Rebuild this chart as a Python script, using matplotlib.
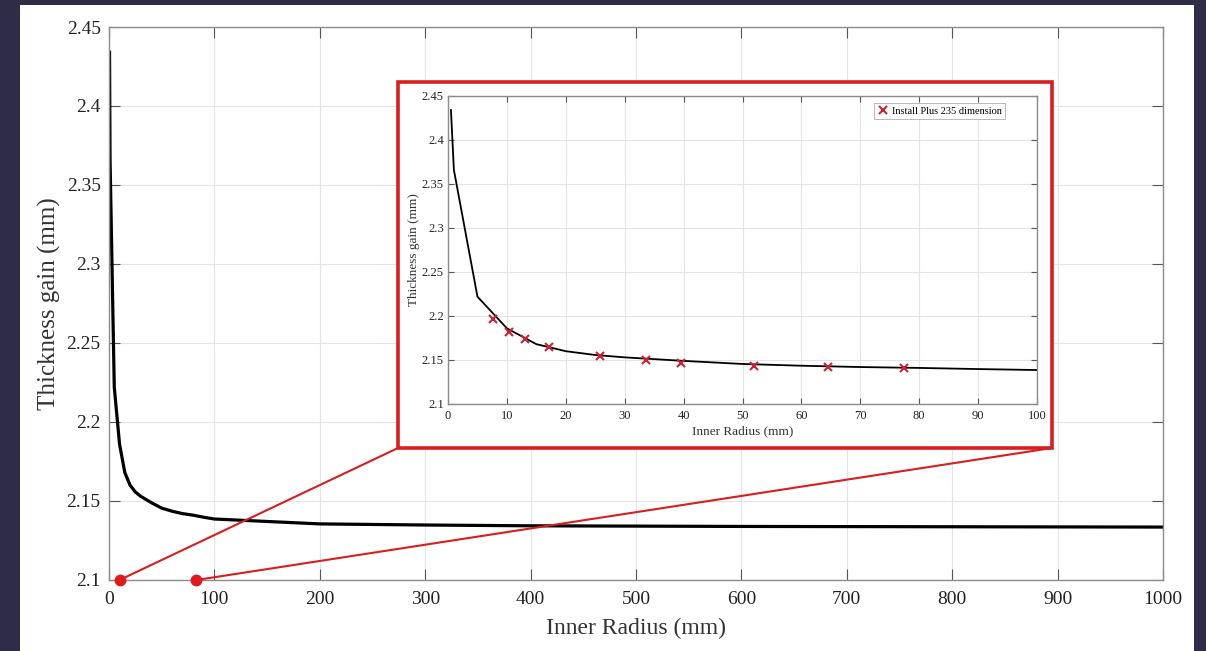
import matplotlib
matplotlib.use("Agg")
import matplotlib.pyplot as plt
from matplotlib.patches import Rectangle, ConnectionPatch
from matplotlib.ticker import FormatStrFormatter, MultipleLocator

# thickness gain vs inner radius
radius = [0.5, 1, 5, 10, 15, 20, 25, 30, 40, 50, 60, 70, 80, 90, 100,
          200, 300, 400, 500, 600, 700, 800, 900, 1000]
gain = [2.434, 2.366, 2.222, 2.186, 2.168, 2.160, 2.1557, 2.153, 2.149, 2.1455,
        2.1435, 2.142, 2.141, 2.1397, 2.1386,
        2.1355, 2.1348, 2.1343, 2.1341, 2.1339, 2.1338, 2.1337, 2.1336, 2.1335]

# Install Plus 235 dimensions
ip_radius = [7.6, 10.4, 13.0, 17.2, 25.8, 33.7, 39.6, 51.9, 64.6, 77.4]
ip_gain = [2.197, 2.182, 2.1735, 2.1645, 2.1542, 2.150, 2.147, 2.1436, 2.1417, 2.1405]

zoom_from = [10, 83]  # red dots on the main x axis

plt.rcParams["font.family"] = ["Liberation Serif", "DejaVu Serif"]

W, H = 1206, 651
fig = plt.figure(figsize=(W / 100, H / 100), dpi=100, facecolor="#2e2c47")


def fbox(x0, y0, x1, y1):
    """pixel box (top-left origin) -> figure fraction rect"""
    return [x0 / W, 1 - y1 / H, (x1 - x0) / W, (y1 - y0) / H]


fig.patches.append(Rectangle((20 / W, 0), (1194 - 20) / W, (651 - 5) / H,
                             transform=fig.transFigure, facecolor="white",
                             edgecolor="none", zorder=-10))

grid_c = "#e4e4e4"
spine_c = "#8c8c8c"


def style(ax, size, tl, xpad, ypad):
    ax.set_facecolor("white")
    for s in ax.spines.values():
        s.set_color(spine_c)
        s.set_linewidth(1.0)
    ax.grid(True, color=grid_c, lw=0.8)
    ax.set_axisbelow(True)
    ax.tick_params(direction="in", top=True, right=True, length=tl,
                   color="#555555", labelsize=size, labelcolor="#222222", width=0.8)
    ax.tick_params(axis="x", pad=xpad)
    ax.tick_params(axis="y", pad=ypad)
    ax.yaxis.set_major_formatter(FormatStrFormatter("%g"))


# ---- main axes -----------------------------------------------------------
ax = fig.add_axes(fbox(109, 27, 1163, 580), zorder=0)
style(ax, 14, 8, 8, 6)
ax.plot(radius, gain, color="black", lw=2.3)
ax.set_xlim(0, 1000)
ax.set_ylim(2.1, 2.45)
ax.xaxis.set_major_locator(MultipleLocator(100))
ax.yaxis.set_major_locator(MultipleLocator(0.05))
ax.set_xlabel("Inner Radius (mm)", fontsize=17, color="#333333", labelpad=7)
ax.set_ylabel("Thickness gain (mm)", fontsize=18, color="#333333", labelpad=4)
ax.plot(zoom_from, [2.1, 2.1], "o", color="#e01a1a", ms=7.5, clip_on=False, zorder=5)

red = "#d81e1e"
box = fbox(398, 82, 1052, 448)
fig.patches.append(Rectangle((box[0], box[1]), box[2], box[3], transform=fig.transFigure,
                             facecolor="white", edgecolor=red, lw=2.6, zorder=1))
for xd, xf in zip(zoom_from, [box[0], box[0] + box[2]]):
    fig.add_artist(ConnectionPatch(xyA=(xd, 2.1), coordsA=ax.transData,
                                   xyB=(xf, box[1]), coordsB=fig.transFigure,
                                   color=red, lw=1.5, zorder=1.5))

# ---- inset axes ----------------------------------------------------------
ins = fig.add_axes(fbox(448, 96, 1037, 404), zorder=2)
style(ins, 9, 4, 4, 3)
ins.plot(radius, gain, color="black", lw=1.3)
ins.plot(ip_radius, ip_gain, "x", color="#cc2233", ms=6, mew=1.5,
         label="Install Plus 235 dimension")
ins.set_xlim(0, 100)
ins.set_ylim(2.1, 2.45)
ins.xaxis.set_major_locator(MultipleLocator(10))
ins.yaxis.set_major_locator(MultipleLocator(0.05))
ins.set_xlabel("Inner Radius (mm)", fontsize=9.5, color="#333333", labelpad=3)
ins.set_ylabel("Thickness gain (mm)", fontsize=9.5, color="#333333", labelpad=1)
leg = ins.legend(loc="upper right", bbox_to_anchor=(0.946, 0.977), fontsize=7.5,
                 frameon=True, fancybox=False, handlelength=1, handletextpad=0.4,
                 borderpad=0.3, borderaxespad=0)
leg.get_frame().set_edgecolor("#999999")
leg.get_frame().set_linewidth(0.6)

fig.savefig("out.png", dpi=100, facecolor=fig.get_facecolor())
